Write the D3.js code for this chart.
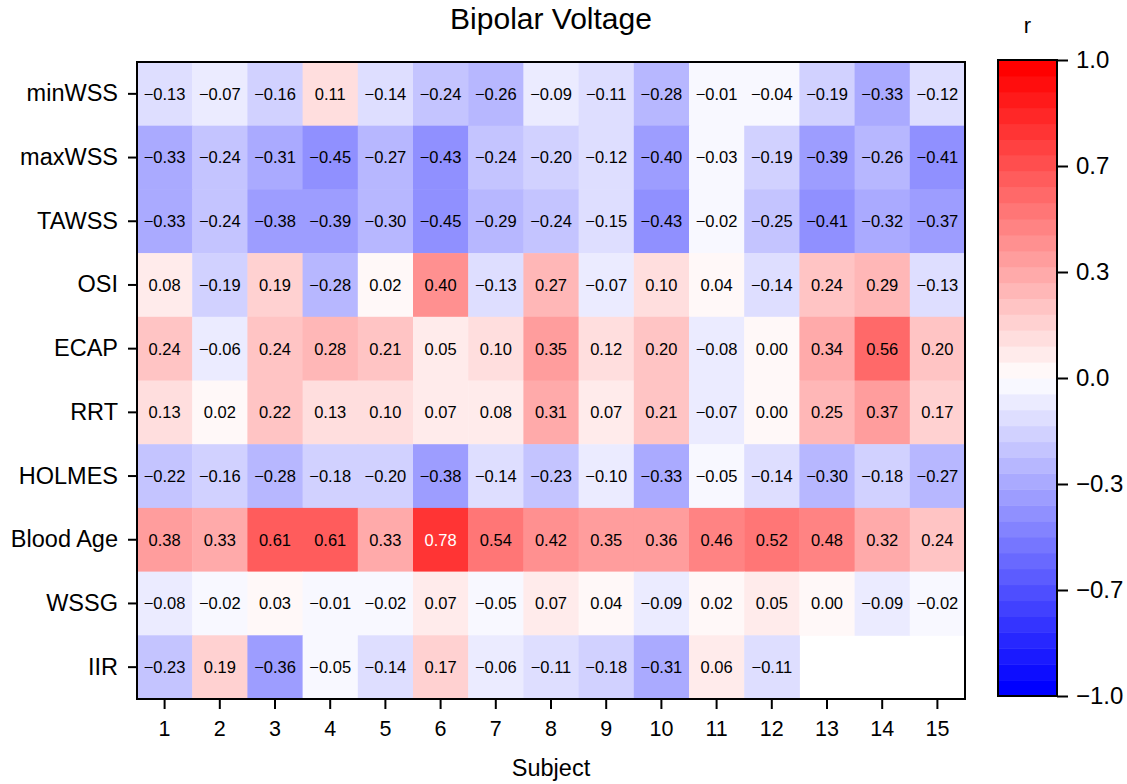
<!DOCTYPE html>
<html lang="en">
<head>
<meta charset="utf-8">
<title>Bipolar Voltage</title>
<style>
  body { margin: 0; background: #fff; }
  text { font-family: "Liberation Sans", Arial, sans-serif; fill: #000; }
</style>
</head>
<body>
<svg width="1127" height="784"></svg>
<script src="https://d3js.org/d3.v7.min.js"></script>
<script>
// rows top to bottom
var features = ["minWSS", "maxWSS", "TAWSS", "OSI", "ECAP", "RRT", "HOLMES", "Blood Age", "WSSG", "IIR"];
var subjects = ["1", "2", "3", "4", "5", "6", "7", "8", "9", "10", "11", "12", "13", "14", "15"];

var minWSS   = [-0.13, -0.07, -0.16, 0.11, -0.14, -0.24, -0.26, -0.09, -0.11, -0.28, -0.01, -0.04, -0.19, -0.33, -0.12];
var maxWSS   = [-0.33, -0.24, -0.31, -0.45, -0.27, -0.43, -0.24, -0.20, -0.12, -0.40, -0.03, -0.19, -0.39, -0.26, -0.41];
var TAWSS    = [-0.33, -0.24, -0.38, -0.39, -0.30, -0.45, -0.29, -0.24, -0.15, -0.43, -0.02, -0.25, -0.41, -0.32, -0.37];
var OSI      = [0.08, -0.19, 0.19, -0.28, 0.02, 0.40, -0.13, 0.27, -0.07, 0.10, 0.04, -0.14, 0.24, 0.29, -0.13];
var ECAP     = [0.24, -0.06, 0.24, 0.28, 0.21, 0.05, 0.10, 0.35, 0.12, 0.20, -0.08, 0.00, 0.34, 0.56, 0.20];
var RRT      = [0.13, 0.02, 0.22, 0.13, 0.10, 0.07, 0.08, 0.31, 0.07, 0.21, -0.07, 0.00, 0.25, 0.37, 0.17];
var HOLMES   = [-0.22, -0.16, -0.28, -0.18, -0.20, -0.38, -0.14, -0.23, -0.10, -0.33, -0.05, -0.14, -0.30, -0.18, -0.27];
var bloodAge = [0.38, 0.33, 0.61, 0.61, 0.33, 0.78, 0.54, 0.42, 0.35, 0.36, 0.46, 0.52, 0.48, 0.32, 0.24];
var WSSG     = [-0.08, -0.02, 0.03, -0.01, -0.02, 0.07, -0.05, 0.07, 0.04, -0.09, 0.02, 0.05, 0.00, -0.09, -0.02];
var IIR      = [-0.23, 0.19, -0.36, -0.05, -0.14, 0.17, -0.06, -0.11, -0.18, -0.31, 0.06, -0.11, null, null, null];

var rowValues = [minWSS, maxWSS, TAWSS, OSI, ECAP, RRT, HOLMES, bloodAge, WSSG, IIR];
var barTicks = [-1, -2/3, -1/3, 0, 1/3, 2/3, 1];
var nBands = 40;

var cells = [];
rowValues.forEach(function(vals, r) {
  vals.forEach(function(v, c) {
    if (v !== null) cells.push({ row: features[r], col: subjects[c], value: v });
  });
});

var svg = d3.select("svg");
var margin = { left: 137, top: 62, right: 965, bottom: 699 };

var x = d3.scaleBand().domain(subjects).range([margin.left, margin.right]);
var y = d3.scaleBand().domain(features).range([margin.top, margin.bottom]);

// 40-step blue-white-red colormap
var ramp = d3.scaleLinear()
  .domain([-1, 0, 1])
  .range(["#0000ff", "#ffffff", "#ff0000"]);
var band = d3.scaleQuantize()
  .domain([-1, 1])
  .range(d3.range(nBands));
function color(v) {
  var i = band(v);
  return ramp(-1 + 2 * i / (nBands - 1));
}

// heatmap cells
svg.append("g").selectAll("rect")
  .data(cells)
  .enter().append("rect")
    .attr("x", function(d) { return x(d.col); })
    .attr("y", function(d) { return y(d.row); })
    .attr("width", x.bandwidth() + 0.5)
    .attr("height", y.bandwidth() + 0.5)
    .attr("fill", function(d) { return color(d.value); });

svg.append("g").selectAll("text")
  .data(cells)
  .enter().append("text")
    .attr("x", function(d) { return x(d.col) + x.bandwidth() / 2; })
    .attr("y", function(d) { return y(d.row) + y.bandwidth() / 2; })
    .attr("text-anchor", "middle")
    .attr("dy", "0.36em")
    .style("font-size", "16.5px")
    .style("fill", function(d) { return d.value > 0.7 ? "#fff" : "#000"; })
    .text(function(d) { return d3.format(".2f")(d.value); });

// frame
svg.append("rect")
  .attr("x", margin.left).attr("y", margin.top)
  .attr("width", margin.right - margin.left)
  .attr("height", margin.bottom - margin.top)
  .attr("fill", "none").attr("stroke", "#000").attr("stroke-width", 2);

// axes
var xAxis = svg.append("g")
  .attr("transform", "translate(0," + margin.bottom + ")")
  .call(d3.axisBottom(x).tickSize(10).tickPadding(12));
var yAxis = svg.append("g")
  .attr("transform", "translate(" + margin.left + ",0)")
  .call(d3.axisLeft(y).tickSize(9).tickPadding(10));
[xAxis, yAxis].forEach(function(a) {
  a.select(".domain").remove();
  a.selectAll(".tick line").attr("stroke", "#000").attr("stroke-width", 2);
  a.selectAll(".tick text").style("font-size", "21.5px").attr("fill", "#000");
});
yAxis.selectAll(".tick text").style("font-size", "23.5px");

svg.append("text")
  .attr("x", (margin.left + margin.right) / 2).attr("y", 29)
  .attr("text-anchor", "middle").style("font-size", "30px")
  .text("Bipolar Voltage");

svg.append("text")
  .attr("x", (margin.left + margin.right) / 2).attr("y", 776)
  .attr("text-anchor", "middle").style("font-size", "23.5px")
  .text("Subject");

// colour bar
var cb = { x: 998, w: 59, top: 60, bottom: 696 };
var cy = d3.scaleLinear().domain([-1, 1]).range([cb.bottom, cb.top]);
var bandStarts = d3.range(nBands).map(function(i) { return -1 + i * 2 / nBands; });

svg.append("g").selectAll("rect")
  .data(bandStarts)
  .enter().append("rect")
    .attr("x", cb.x)
    .attr("y", function(d) { return cy(d + 2 / nBands); })
    .attr("width", cb.w)
    .attr("height", function(d) { return cy(d) - cy(d + 2 / nBands) + 0.5; })
    .attr("fill", function(d) { return color(d + 1 / nBands); });

svg.append("rect")
  .attr("x", cb.x).attr("y", cb.top)
  .attr("width", cb.w).attr("height", cb.bottom - cb.top)
  .attr("fill", "none").attr("stroke", "#000").attr("stroke-width", 2);

var cAxis = svg.append("g")
  .attr("transform", "translate(" + (cb.x + cb.w) + ",0)")
  .call(d3.axisRight(cy).tickValues(barTicks).tickSize(11).tickPadding(8)
    .tickFormat(function(d) { return d3.format(".1f")(d).replace("-", "\u2212"); }));
cAxis.select(".domain").remove();
cAxis.selectAll(".tick line").attr("stroke", "#000").attr("stroke-width", 2);
cAxis.selectAll(".tick text").style("font-size", "24px").attr("fill", "#000");

svg.append("text")
  .attr("x", cb.x + cb.w / 2).attr("y", 33)
  .attr("text-anchor", "middle").style("font-size", "22px")
  .text("r");
</script>
</body>
</html>
